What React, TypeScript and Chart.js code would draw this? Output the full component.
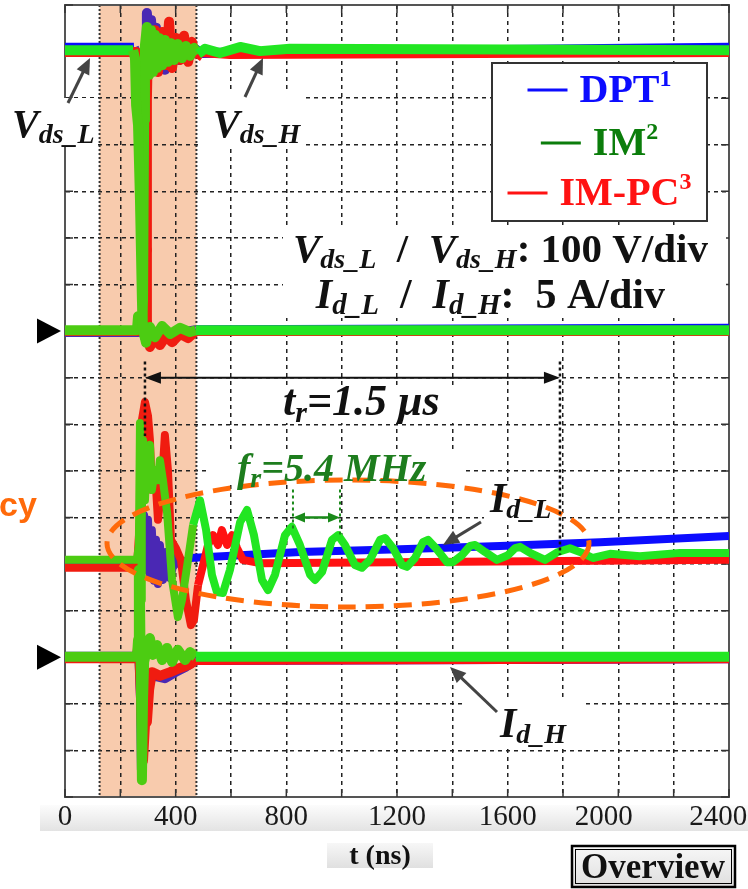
import React, { useEffect, useRef } from 'react';
import { Chart, registerables } from 'chart.js';

Chart.register(...registerables);

type Pt = [number, number];

// ---- axes (time in ns, vertical in oscilloscope divisions) ----
const X_MIN = 0;
const X_MAX = 2400;
const X_GRID_STEP = 200;
const X_LABEL_STEP = 400;
const X_LABEL_PAD: Record<number, string> = { 2000: '    ', 2400: '   ' };
const Y_MIN = 0;
const Y_MAX = 17;
const SHADE_START = 125;
const SHADE_END = 475;
const VDS_ZERO = 10;
const ID_H_ZERO = 3;
const T_R_START = 289;
const T_R_END = 1789;
const T_R_LEVEL = 9;
const F_R_START = 824;
const F_R_END = 994;
const F_R_LEVEL = 6;

// ---- IM (green) ----
const imVdsL: Pt[] = [[0,16.03],[246,16.03],[253,15.86],[257,14.85],[264,14.42],[271,12.81],[278,10.67],[282,10.02],[293,9.75],[307,10.09],[325,9.87],[351,10.11],[380,9.94],[416,10.07],[452,9.98],[473,10.02],[2400,10.02]];
const imVdsH: Pt[] = [[0,10.02],[260,10.02],[264,10.32],[271,10.2],[278,10.02],[282,10.67],[286,14.53],[289,16.14],[296,16.53],[304,15.5],[311,16.46],[318,15.56],[325,16.36],[333,15.65],[340,16.29],[351,15.71],[361,16.25],[372,15.78],[383,16.18],[394,15.82],[408,16.16],[423,15.86],[437,16.12],[452,15.91],[466,16.08],[481,15.95],[506,16.06],[560,15.97],[633,16.1],[705,16.01],[813,16.06],[2400,16.03]];
const imIdL: Pt[] = [[0,5.09],[260,5.09],[267,5.41],[271,8.03],[275,6.8],[277,4.23],[278,5.95],[282,7.66],[289,6.37],[296,7.34],[307,7.56],[314,6.59],[325,7.02],[336,6.8],[343,7.23],[354,6.8],[369,6.1],[387,4.66],[408,3.86],[423,4.23],[441,4.94],[463,5.84],[488,6.37],[510,5.73],[531,4.77],[549,4.4],[571,4.38],[596,4.87],[633,5.9],[658,6.16],[683,5.62],[712,4.66],[734,4.44],[759,4.77],[795,5.62],[820,5.8],[849,5.41],[886,4.77],[904,4.66],[929,4.83],[965,5.52],[987,5.62],[1012,5.41],[1048,4.98],[1073,4.92],[1102,5.09],[1139,5.52],[1157,5.56],[1186,5.34],[1218,4.98],[1236,4.94],[1265,5.13],[1294,5.47],[1312,5.52],[1341,5.34],[1381,5.04],[1402,5.04],[1435,5.19],[1464,5.39],[1482,5.41],[1518,5.26],[1561,5.09],[1601,5.19],[1627,5.34],[1645,5.37],[1681,5.24],[1735,5.09],[1782,5.26],[1825,5.34],[1869,5.24],[1908,5.13],[1970,5.22],[2078,5.17],[2223,5.24],[2400,5.24]];
const imIdH: Pt[] = [[0,3.01],[260,3.01],[264,3.37],[267,4.87],[271,4.23],[275,2.08],[278,0.36],[282,2.08],[286,2.9],[296,3.16],[307,3.41],[318,3.05],[333,3.26],[351,2.94],[369,3.2],[387,2.9],[408,3.16],[434,2.94],[452,3.11],[473,3.01],[2400,3.01]];

// ---- IM-PC (red) ----
const imPcVdsL: Pt[] = [[0,15.99],[257,15.99],[267,15.82],[275,14.96],[282,14.53],[289,13.89],[293,11.74],[296,10.24],[300,9.92],[307,9.66],[322,9.85],[343,9.7],[365,9.89],[387,9.76],[416,9.94],[445,9.85],[473,10.0],[2400,10.0]];
const imPcVdsH: Pt[] = [[0,10.0],[264,10.0],[271,10.28],[282,10.2],[289,10.02],[293,11.74],[296,14.96],[300,16.25],[307,16.36],[314,15.82],[325,16.46],[336,15.56],[351,16.42],[365,15.71],[376,16.64],[387,15.65],[401,16.29],[416,15.82],[430,16.34],[445,15.78],[459,16.21],[473,15.86],[488,15.99],[596,15.95],[2400,15.99]];
const imPcIdL: Pt[] = [[0,4.92],[260,4.92],[271,5.95],[278,8.09],[289,8.48],[300,8.18],[307,7.66],[314,6.59],[325,7.02],[336,5.95],[351,6.8],[361,7.77],[372,7.02],[383,5.52],[401,5.34],[419,5.09],[437,4.23],[455,3.69],[466,3.8],[481,4.55],[499,4.98],[517,5.41],[535,5.62],[553,5.41],[567,5.73],[586,5.41],[604,5.62],[622,5.34],[643,5.09],[705,5.02],[2400,5.09]];
const imPcIdH: Pt[] = [[0,2.98],[260,2.98],[267,3.37],[275,2.08],[282,0.79],[289,1.55],[296,1.61],[304,2.3],[314,2.68],[343,2.6],[380,2.68],[416,2.77],[452,2.85],[473,2.94],[2400,2.98]];

// ---- DPT (blue) ----
const dptVdsL: Pt[] = [[0,16.08],[249,16.08],[260,15.93],[267,15.5],[271,15.18],[275,13.89],[278,11.74],[282,10.24],[289,9.87],[300,9.81],[314,9.94],[336,9.85],[361,9.96],[398,9.89],[434,9.98],[473,10.02],[2400,10.05]];
const dptVdsH: Pt[] = [[0,9.98],[264,9.98],[271,10.28],[278,10.13],[286,10.45],[289,13.89],[293,15.82],[296,16.83],[304,15.93],[311,16.68],[318,15.78],[329,16.51],[340,15.69],[351,16.36],[361,15.61],[372,16.21],[383,15.73],[398,16.14],[412,15.82],[430,16.1],[448,15.88],[470,16.06],[488,15.97],[2400,16.08]];
const dptIdL: Pt[] = [[0,5.02],[264,5.02],[271,5.52],[275,6.8],[278,6.37],[282,5.09],[286,6.05],[293,4.87],[300,5.95],[307,4.72],[314,5.73],[322,4.64],[329,5.52],[336,4.57],[343,5.41],[354,4.66],[365,5.26],[380,4.7],[398,5.13],[416,4.98],[452,5.13],[849,5.26],[1211,5.32],[1572,5.39],[1934,5.47],[2400,5.6]];
const dptIdH: Pt[] = [[0,3.01],[260,3.01],[267,3.26],[275,2.08],[278,0.58],[282,1.65],[289,2.3],[300,2.55],[325,2.6],[361,2.55],[398,2.68],[434,2.79],[473,2.94],[2400,2.98]];

const TRACE_WIDTHS = [10, 10, 8, 10];

const SERIES = [
  { name: 'IM', sup: '2', color: '#22e622', shade: '#4ccc12', legend: '#0b7d0b', traces: [imVdsL, imVdsH, imIdL, imIdH] },
  { name: 'IM-PC', sup: '3', color: '#ff1212', shade: '#f01c10', legend: '#ff1212', traces: [imPcVdsL, imPcVdsH, imPcIdL, imPcIdH] },
  { name: 'DPT', sup: '1', color: '#0c0cff', shade: '#4a28b4', legend: '#0c0cff', traces: [dptVdsL, dptVdsH, dptIdL, dptIdH] },
];
const LEGEND_ORDER = ['DPT', 'IM', 'IM-PC'];

const SERIF = '"Liberation Serif", "Times New Roman", serif';
const BI = (s: number) => `italic bold ${s}px ${SERIF}`;
const B = (s: number) => `bold ${s}px ${SERIF}`;

type Part = { t: string; f: string; dy?: number; c?: string };

function rich(ctx: CanvasRenderingContext2D, parts: Part[], x: number, y: number, align: 'left' | 'right' | 'center' = 'left') {
  let w = 0;
  parts.forEach((p) => { ctx.font = p.f; w += ctx.measureText(p.t).width; });
  let cx = align === 'right' ? x - w : align === 'center' ? x - w / 2 : x;
  ctx.textBaseline = 'alphabetic';
  ctx.textAlign = 'left';
  parts.forEach((p) => {
    ctx.font = p.f;
    ctx.fillStyle = p.c || '#111';
    ctx.fillText(p.t, cx, y + (p.dy || 0));
    cx += ctx.measureText(p.t).width;
  });
  return w;
}

function head(ctx: CanvasRenderingContext2D, x: number, y: number, ang: number, len: number, half: number) {
  const c = Math.cos(ang), s = Math.sin(ang);
  ctx.beginPath();
  ctx.moveTo(x, y);
  ctx.lineTo(x - len * c + half * s, y - len * s - half * c);
  ctx.lineTo(x - len * c - half * s, y - len * s + half * c);
  ctx.closePath();
  ctx.fill();
}

function arrow(ctx: CanvasRenderingContext2D, x0: number, y0: number, x1: number, y1: number, color: string, w: number, len: number, half: number, both = false) {
  const ang = Math.atan2(y1 - y0, x1 - x0);
  const c = Math.cos(ang), s = Math.sin(ang);
  ctx.save();
  ctx.strokeStyle = color;
  ctx.fillStyle = color;
  ctx.lineWidth = w;
  ctx.setLineDash([]);
  ctx.beginPath();
  ctx.moveTo(x0 + (both ? c * len * 0.8 : 0), y0 + (both ? s * len * 0.8 : 0));
  ctx.lineTo(x1 - c * len * 0.8, y1 - s * len * 0.8);
  ctx.stroke();
  head(ctx, x1, y1, ang, len, half);
  if (both) head(ctx, x0, y0, ang + Math.PI, len, half);
  ctx.restore();
}

function vline(ctx: CanvasRenderingContext2D, x: number, y0: number, y1: number, color: string, w: number, dash: number[]) {
  ctx.save();
  ctx.strokeStyle = color;
  ctx.lineWidth = w;
  ctx.setLineDash(dash);
  ctx.beginPath();
  ctx.moveTo(x, y0);
  ctx.lineTo(x, y1);
  ctx.stroke();
  ctx.restore();
}

const decor = {
  id: 'decor',
  beforeDraw(chart: any) {
    const { ctx, chartArea: a, scales } = chart;
    const x = scales.x;
    ctx.save();
    let g = ctx.createLinearGradient(0, 805, 0, 831);
    g.addColorStop(0, '#fcfcfc');
    g.addColorStop(1, '#e3e3e3');
    ctx.fillStyle = g;
    ctx.fillRect(40, 805, 708, 26);
    g = ctx.createLinearGradient(0, 843, 0, 868);
    g.addColorStop(0, '#f7f7f7');
    g.addColorStop(1, '#e0e0e0');
    ctx.fillStyle = g;
    ctx.fillRect(327, 843, 106, 25);
    const sx0 = x.getPixelForValue(SHADE_START);
    const sx1 = x.getPixelForValue(SHADE_END);
    ctx.fillStyle = '#f8cbad';
    ctx.fillRect(sx0, a.top, sx1 - sx0, a.bottom - a.top);
    ctx.restore();
  },
  beforeDatasetsDraw(chart: any) {
    const { ctx, chartArea: a, scales } = chart;
    const x = scales.x, y = scales.y;
    ctx.save();
    const sx0 = x.getPixelForValue(SHADE_START);
    const sx1 = x.getPixelForValue(SHADE_END);
    vline(ctx, sx0, a.top, a.bottom, '#333', 2, [2, 2]);
    vline(ctx, sx1, a.top, a.bottom, '#333', 2, [2, 2]);
    ctx.setLineDash([]);
    ctx.strokeStyle = '#555';
    ctx.lineWidth = 2;
    ctx.strokeRect(a.left, a.top, a.right - a.left, a.bottom - a.top);
    ctx.strokeStyle = '#333';
    ctx.lineWidth = 1.5;
    ctx.beginPath();
    for (let v = X_MIN; v <= X_MAX; v += X_GRID_STEP) {
      const px = x.getPixelForValue(v);
      ctx.moveTo(px, a.bottom); ctx.lineTo(px, a.bottom - 8);
      ctx.moveTo(px, a.top); ctx.lineTo(px, a.top + 8);
    }
    for (let v = Y_MIN; v <= Y_MAX; v += 1) {
      const py = y.getPixelForValue(v);
      ctx.moveTo(a.left, py); ctx.lineTo(a.left + 8, py);
      ctx.moveTo(a.right, py); ctx.lineTo(a.right - 8, py);
    }
    ctx.stroke();
    ctx.fillStyle = '#ffffff';
    const masks = [
      [0, 98, 97, 49],
      [199, 93, 103, 54],
      [283, 227, 443, 91],
      [270, 385, 190, 38],
      [207, 449, 259, 34],
      [484, 485, 74, 36],
      [462, 698, 120, 48],
    ];
    masks.forEach(([mx, my, mw, mh]) => ctx.fillRect(mx, my, mw, mh));
    ctx.restore();
  },
  afterDatasetsDraw(chart: any) {
    const { ctx, scales } = chart;
    const x = scales.x, y = scales.y;
    ctx.save();

    ctx.strokeStyle = '#ff6a0a';
    ctx.lineWidth = 5;
    ctx.setLineDash([18, 10]);
    ctx.beginPath();
    ctx.ellipse(348, 543.5, 241, 63.5, 0, 0, Math.PI * 2);
    ctx.stroke();
    ctx.setLineDash([]);

    ctx.fillStyle = '#000';
    [VDS_ZERO, ID_H_ZERO].forEach((lv) => {
      const py = y.getPixelForValue(lv);
      ctx.beginPath();
      ctx.moveTo(37, py - 12.5);
      ctx.lineTo(61, py);
      ctx.lineTo(37, py + 12.5);
      ctx.closePath();
      ctx.fill();
    });

    const tr0 = x.getPixelForValue(T_R_START);
    const tr1 = x.getPixelForValue(T_R_END);
    const trY = y.getPixelForValue(T_R_LEVEL);
    vline(ctx, tr0, y.getPixelForValue(9.35), y.getPixelForValue(7.75), '#111', 2.5, [3, 3]);
    vline(ctx, tr1, y.getPixelForValue(9.35), y.getPixelForValue(5.2), '#111', 2.5, [3, 3]);
    arrow(ctx, tr0, trY, tr1, trY, '#111', 2, 16, 6, true);

    const fr0 = x.getPixelForValue(F_R_START);
    const fr1 = x.getPixelForValue(F_R_END);
    const frY = y.getPixelForValue(F_R_LEVEL);
    vline(ctx, fr0, y.getPixelForValue(6.6), y.getPixelForValue(5.7), '#1a8a1a', 2, [3, 3]);
    vline(ctx, fr1, y.getPixelForValue(6.6), y.getPixelForValue(5.6), '#1a8a1a', 2, [3, 3]);
    arrow(ctx, fr0, frY, fr1, frY, '#1a8a1a', 2.5, 12, 5, true);

    arrow(ctx, 68, 103, 90, 58, '#444', 3, 16, 7);
    arrow(ctx, 245, 97, 263, 58, '#444', 3, 16, 7);
    arrow(ctx, 481, 522, 443, 545, '#444', 3, 16, 7);
    arrow(ctx, 497, 712, 450, 667, '#444', 3, 16, 7);

    rich(ctx, [{ t: 'V', f: BI(40) }, { t: 'ds_L', f: BI(28), dy: 6 }], 12, 137);
    rich(ctx, [{ t: 'V', f: BI(40) }, { t: 'ds_H', f: BI(28), dy: 6 }], 213, 137);
    rich(ctx, [
      { t: 'V', f: BI(41) }, { t: 'ds_L', f: BI(28), dy: 6 }, { t: '  /  ', f: B(41) },
      { t: 'V', f: BI(41) }, { t: 'ds_H', f: BI(28), dy: 6 }, { t: ': 100 V/div', f: B(41) },
    ], 708, 262, 'right');
    rich(ctx, [
      { t: 'I', f: BI(42) }, { t: 'd_L', f: BI(29), dy: 6 }, { t: '  /  ', f: B(42) },
      { t: 'I', f: BI(42) }, { t: 'd_H', f: BI(29), dy: 6 }, { t: ':  5 A/div', f: B(42) },
    ], 665, 308, 'right');
    rich(ctx, [{ t: 't', f: BI(44) }, { t: 'r', f: BI(30), dy: 7 }, { t: '=1.5 \u03bcs', f: BI(44) }], 283, 415);
    rich(ctx, [
      { t: 'f', f: BI(40), c: '#1e7d1e' }, { t: 'r', f: BI(28), dy: 6, c: '#1e7d1e' }, { t: '=5.4 MHz', f: BI(40), c: '#1e7d1e' },
    ], 237, 481);
    rich(ctx, [{ t: 'I', f: BI(42) }, { t: 'd_L', f: BI(28), dy: 6 }], 490, 512);
    rich(ctx, [{ t: 'I', f: BI(42) }, { t: 'd_H', f: BI(28), dy: 6 }], 500, 737);

    ctx.font = 'bold 34px "Liberation Sans", Arial, sans-serif';
    ctx.fillStyle = '#ff6a0a';
    ctx.textAlign = 'left';
    ctx.fillText('cy', -1, 516);

    const lx0 = 492, ly0 = 63, lx1 = 707, ly1 = 221;
    ctx.fillStyle = '#fff';
    ctx.fillRect(lx0, ly0, lx1 - lx0, ly1 - ly0);
    ctx.strokeStyle = '#333';
    ctx.lineWidth = 2;
    ctx.strokeRect(lx0, ly0, lx1 - lx0, ly1 - ly0);
    const baselines = [102, 155, 205];
    const cx = (lx0 + lx1) / 2;
    LEGEND_ORDER.forEach((nm, i) => {
      const s = SERIES.find((q) => q.name === nm)!;
      ctx.font = B(40);
      const tw = ctx.measureText(s.name).width;
      ctx.font = B(24);
      const sw = ctx.measureText(s.sup).width;
      const total = 40 + 12 + tw + sw;
      const st = cx - total / 2;
      const bl = baselines[i];
      ctx.strokeStyle = s.legend;
      ctx.lineWidth = 3;
      ctx.beginPath();
      ctx.moveTo(st, bl - 12);
      ctx.lineTo(st + 40, bl - 12);
      ctx.stroke();
      rich(ctx, [{ t: s.name, f: B(40), c: s.legend }, { t: s.sup, f: B(24), dy: -16, c: s.legend }], st + 52, bl);
    });

    ctx.font = B(28);
    ctx.fillStyle = '#111';
    ctx.textAlign = 'center';
    ctx.fillText('t (ns)', 380, 864);

    const g = ctx.createLinearGradient(0, 845, 0, 888);
    g.addColorStop(0, '#f8f8f8');
    g.addColorStop(1, '#dedede');
    ctx.fillStyle = g;
    ctx.fillRect(571, 845, 165, 43);
    ctx.strokeStyle = '#000';
    ctx.lineWidth = 2.5;
    ctx.strokeRect(572, 846, 163, 41);
    ctx.lineWidth = 1;
    ctx.strokeRect(575.5, 849.5, 156, 34);
    ctx.font = B(35);
    ctx.fillStyle = '#111';
    ctx.textAlign = 'center';
    ctx.fillText('Overview', 653, 878);

    ctx.restore();
  },
};

export default function App() {
  const ref = useRef<HTMLCanvasElement | null>(null);

  useEffect(() => {
    if (!ref.current) return;
    const datasets: any[] = [];
    SERIES.forEach((s) => {
      s.traces.forEach((tr, k) => {
        datasets.push({
          label: `${s.name}-${k}`,
          data: tr.map(([px, py]) => ({ x: px, y: py })),
          borderColor: s.color,
          borderWidth: TRACE_WIDTHS[k],
          borderJoinStyle: 'round',
          borderCapStyle: 'butt',
          pointRadius: 0,
          tension: 0,
          fill: false,
          segment: {
            borderColor: (c: any) => {
              const mid = (c.p0.parsed.x + c.p1.parsed.x) / 2;
              return mid >= SHADE_START && mid <= SHADE_END ? s.shade : s.color;
            },
          },
        });
      });
    });

    const chart = new Chart(ref.current, {
      type: 'line',
      data: { datasets },
      plugins: [decor],
      options: {
        responsive: false,
        animation: false,
        devicePixelRatio: 1,
        layout: { padding: { left: 0, right: 19, top: 5, bottom: 0 } },
        plugins: { legend: { display: false }, tooltip: { enabled: false } },
        events: [],
        scales: {
          x: {
            type: 'linear',
            min: X_MIN,
            max: X_MAX,
            afterFit: (s: any) => { s.height = 92; s.paddingLeft = 0; s.paddingRight = 0; },
            ticks: {
              stepSize: X_GRID_STEP,
              autoSkip: false,
              maxRotation: 0,
              minRotation: 0,
              padding: 3,
              color: '#1a1a1a',
              font: { family: 'Liberation Serif', size: 29 },
              callback: (v: any) => (Number(v) % X_LABEL_STEP === 0 ? String(v) + (X_LABEL_PAD[Number(v)] || '') : ''),
            },
            grid: { color: '#222', lineWidth: 1.5, drawTicks: false },
            border: { display: true, color: '#555', width: 2, dash: [4, 4] },
          },
          y: {
            type: 'linear',
            min: Y_MIN,
            max: Y_MAX,
            afterFit: (s: any) => { s.width = 65; s.paddingTop = 0; s.paddingBottom = 0; },
            ticks: { stepSize: 1, display: false },
            grid: { color: '#222', lineWidth: 1.5, drawTicks: false },
            border: { display: true, color: '#555', width: 2, dash: [4, 4] },
          },
        },
      } as any,
    });
    return () => chart.destroy();
  }, []);

  return (
    <div style={{ position: 'absolute', left: 0, top: 0, width: 748, height: 889, background: '#fff' }}>
      <canvas ref={ref} width={748} height={889} style={{ display: 'block' }} />
    </div>
  );
}
